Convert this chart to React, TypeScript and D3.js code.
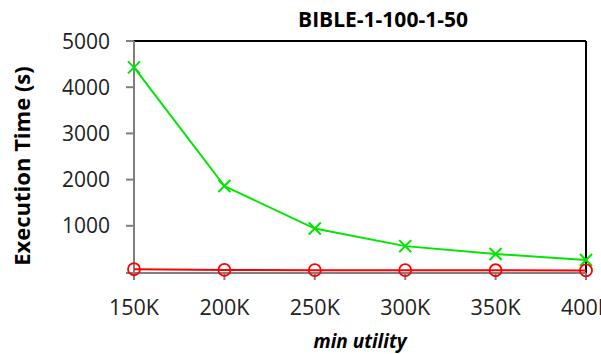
import React from "react";
import * as d3 from "d3";

const categories = ["150K", "200K", "250K", "300K", "350K", "400K"];
const greenValues = [4430, 1860, 940, 560, 390, 260];
const redValues = [60, 45, 40, 40, 38, 35];
const yTicks = [1000, 2000, 3000, 4000, 5000];
const title = "BIBLE-1-100-1-50";
const xTitle = "min utility";
const yTitle = "Execution Time (s)";

const W = 601, H = 354;
const left = 134, right = 586, top = 41, bottom = 272;

export default function App() {
  const x = d3.scalePoint<string>().domain(categories).range([left, right]);
  const y = d3.scaleLinear().domain([0, 5000]).range([bottom, top]);
  const line = d3.line<number>().x((_, i) => x(categories[i])!).y((d) => y(d));
  const font = "'Open Sans', sans-serif";
  return (
    <svg width={W} height={H} style={{ position: "absolute", left: 0, top: 0, background: "#fff" }}>
      <rect x={0} y={0} width={W} height={H} fill="#fff" />
      <text x={383} y={27} textAnchor="middle" fontFamily={font} fontWeight="bold" fontSize={21}>{title}</text>
      {/* frame */}
      <line x1={left} x2={right} y1={top} y2={top} stroke="#000" strokeWidth={2} />
      <line x1={right} x2={right} y1={top} y2={bottom + 1} stroke="#000" strokeWidth={2} />
      <line x1={left} x2={left} y1={top} y2={bottom + 1} stroke="#808080" strokeWidth={2} />
      <line x1={left - 1} x2={right} y1={bottom + 1} y2={bottom + 1} stroke="#808080" strokeWidth={2} />
      {/* y ticks */}
      {yTicks.map((t) => (
        <g key={t}>
          <line x1={left - 8} x2={left} y1={y(t)} y2={y(t)} stroke="#808080" strokeWidth={2} />
          <text x={left - 24} y={y(t)} dy="0.36em" textAnchor="end" fontFamily={font} fontSize={21} fill="#222">{t}</text>
        </g>
      ))}
      <line x1={left - 8} x2={left} y1={bottom + 1} y2={bottom + 1} stroke="#808080" strokeWidth={2} />
      {/* x ticks */}
      {categories.map((c) => (
        <g key={c}>
          <line x1={x(c)!} x2={x(c)!} y1={bottom + 1} y2={bottom + 8} stroke="#808080" strokeWidth={2} />
          <text x={x(c)!} y={315} textAnchor="middle" fontFamily={font} fontSize={21.5} fill="#222">{c}</text>
        </g>
      ))}
      {/* green series */}
      <path d={line(greenValues)!} fill="none" stroke="#00e600" strokeWidth={2} />
      {greenValues.map((v, i) => {
        const cx = x(categories[i])!, cy = y(v), s = 6;
        return (
          <path key={i} d={`M${cx - s},${cy - s}L${cx + s},${cy + s}M${cx - s},${cy + s}L${cx + s},${cy - s}`} stroke="#00e600" strokeWidth={2} />
        );
      })}
      {/* red series */}
      <path d={line(redValues)!} fill="none" stroke="#ff0000" strokeWidth={2} />
      {redValues.map((v, i) => (
        <circle key={i} cx={x(categories[i])!} cy={y(v)} r={6} fill="none" stroke="#ff0000" strokeWidth={1.8} />
      ))}
      <text x={360} y={348} textAnchor="middle" fontFamily={font} fontWeight="bold" fontStyle="italic" fontSize={19}>{xTitle}</text>
      <text transform="translate(30,166) rotate(-90)" textAnchor="middle" fontFamily={font} fontWeight="bold" fontSize={22}>{yTitle}</text>
    </svg>
  );
}
